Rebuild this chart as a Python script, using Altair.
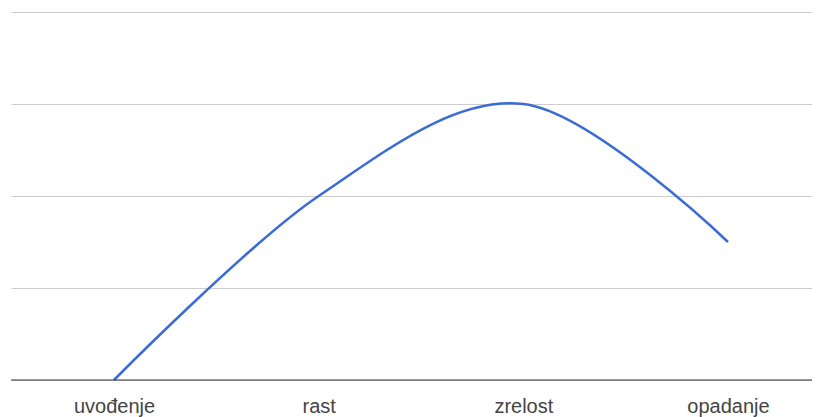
import altair as alt
import pandas as pd

faze = ["uvođenje", "rast", "zrelost", "opadanje"]
vrijednosti = [0, 2, 3, 1.5]

df = pd.DataFrame({"faza": faze, "v": vrijednosti})

x = alt.X("faza:N", sort=faze,
          scale=alt.Scale(type="point", padding=0.4568, align=0.5508),
          axis=alt.Axis(title=None, grid=False, ticks=False, domain=False,
                        labelAngle=0, labelFont="Arial, Liberation Sans",
                        labelFontSize=20,
                        labelColor="#444444", labelPadding=16))
y = alt.Y("v:Q", scale=alt.Scale(domain=[0, 4], nice=False, zero=True),
          axis=alt.Axis(title=None, labels=False, ticks=False, domain=False,
                        values=[0, 1, 2, 3, 4],
                        gridColor="#cccccc", gridWidth=1))

line = alt.Chart(df).mark_line(
    interpolate="cardinal", color="#3a6bd6", strokeWidth=2.5
).encode(x=x, y=y)

base = alt.Chart(pd.DataFrame({"v": [0]})).mark_rule(
    color="#333333", strokeWidth=1.2
).encode(y=alt.Y("v:Q", scale=alt.Scale(domain=[0, 4])))

chart = alt.layer(line, base).properties(
    width=801, height=368,
    autosize=alt.AutoSizeParams(type="none"),
    padding={"left": 3, "top": 4, "right": 0, "bottom": 37},
).configure_view(stroke=None)

chart.save("out.html", embed_options={"renderer": "svg", "actions": False})
